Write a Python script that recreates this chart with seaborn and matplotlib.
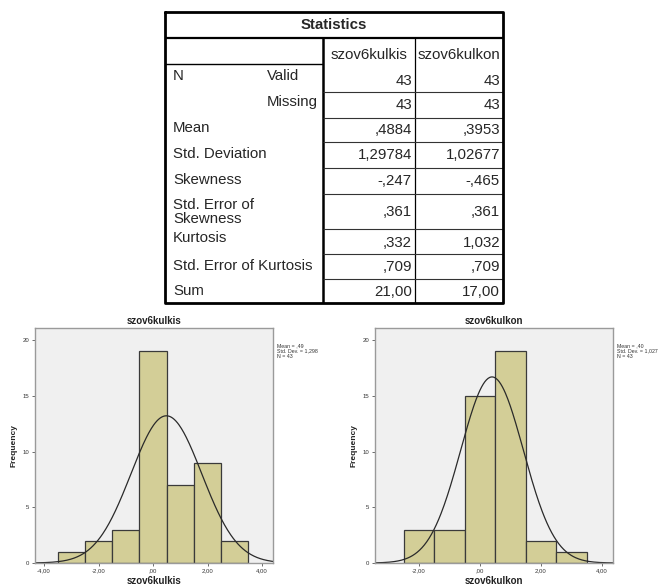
import numpy as np
import pandas as pd
import matplotlib.pyplot as plt
import seaborn as sns

# ---- data ----
var_names = ['szov6kulkis', 'szov6kulkon']
row_labels = ['Mean', 'Std. Deviation', 'Skewness', 'Std. Error of\nSkewness',
              'Kurtosis', 'Std. Error of Kurtosis', 'Sum']
kulkis_vals = ['43', '43', ',4884', '1,29784', '-,247', ',361', ',332', ',709', '21,00']
kulkon_vals = ['43', '43', ',3953', '1,02677', '-,465', ',361', '1,032', ',709', '17,00']

kulkis_edges = [-3.5, -2.5, -1.5, -0.5, 0.5, 1.5, 2.5, 3.5]
kulkis_counts = [1, 2, 3, 19, 7, 9, 2]
kulkon_edges = [-2.5, -1.5, -0.5, 0.5, 1.5, 2.5, 3.5]
kulkon_counts = [3, 3, 15, 19, 2, 1]

kulkis_mean, kulkis_sd = 0.4884, 1.29784
kulkon_mean, kulkon_sd = 0.3953, 1.02677
n_valid = 43

kulkis_ticks = [-4, -2, 0, 2, 4]
kulkis_ticklabels = ['-4,00', '-2,00', ',00', '2,00', '4,00']
kulkon_ticks = [-2, 0, 2, 4]
kulkon_ticklabels = ['-2,00', ',00', '2,00', '4,00']
y_ticks = [0, 5, 10, 15, 20]

kulkis_info = 'Mean = ,49\nStd. Dev. = 1,298\nN = 43'
kulkon_info = 'Mean = ,40\nStd. Dev. = 1,027\nN = 43'

# ---- figure ----
sns.set_style('white')
plt.rcParams['font.family'] = ['Liberation Sans', 'DejaVu Sans']
W, H = 664, 588
fig = plt.figure(figsize=(W / 100, H / 100), dpi=100)


def box(x0, y0, x1, y1):
    # pixel box (top-left origin) -> figure fraction rect
    return [x0 / W, 1 - y1 / H, (x1 - x0) / W, (y1 - y0) / H]


# ---- 1. statistics table ----
tab = fig.add_axes([0, 0, 1, 1])
tab.set_xlim(0, W)
tab.set_ylim(H, 0)
tab.axis('off')

L, C1, C2, R = 165, 323, 415, 503
top, title_b, head_b, bottom = 12, 38, 64, 303
val_lines = [92, 118, 142, 168, 194, 229, 254, 279]

fs = 10.8
tab.text((L + R) / 2, 25, 'Statistics', ha='center', va='center', fontsize=fs, fontweight='bold')
tab.hlines(title_b, L, R, color='black', lw=1.6)
tab.hlines(head_b, L, C1, color='black', lw=1.0)
tab.vlines(C1, title_b, bottom, color='black', lw=1.8)
tab.vlines(C2, title_b, bottom, color='black', lw=0.9)
tab.hlines(val_lines, C1, R, color='#333333', lw=0.8)
tab.plot([L, R, R, L, L], [top, top, bottom, bottom, top], color='black', lw=2.0)

for name, cx in zip(var_names, [(C1 + C2) / 2, (C2 + R) / 2]):
    tab.text(cx, 55, name, ha='center', va='center', fontsize=fs)

tab.text(173, 76, 'N', ha='left', va='center', fontsize=fs)
tab.text(267, 76, 'Valid', ha='left', va='center', fontsize=fs)
tab.text(267, 102, 'Missing', ha='left', va='center', fontsize=fs)
label_y = [128, 154, 180, 212, 238, 266, 291]
for lab, y in zip(row_labels, label_y):
    tab.text(173, y, lab, ha='left', va='center', fontsize=fs, linespacing=1.05)

val_y = [81, 105, 130, 155, 181, 212, 243, 267, 292]
for v1, v2, y in zip(kulkis_vals, kulkon_vals, val_y):
    tab.text(C2 - 3, y, v1, ha='right', va='center', fontsize=fs)
    tab.text(R - 3, y, v2, ha='right', va='center', fontsize=fs)

# ---- 2. histograms with normal curve ----
panels = [
    (box(35, 328, 273, 563), kulkis_edges, kulkis_counts, kulkis_mean, kulkis_sd,
     (-4.33, 4.40), kulkis_ticks, kulkis_ticklabels, var_names[0], kulkis_info),
    (box(375, 328, 613, 563), kulkon_edges, kulkon_counts, kulkon_mean, kulkon_sd,
     (-3.44, 4.36), kulkon_ticks, kulkon_ticklabels, var_names[1], kulkon_info),
]

for rect, edges, counts, mu, sd, xlim, ticks, ticklabels, name, info in panels:
    ax = fig.add_axes(rect)
    centers = [(a + b) / 2 for a, b in zip(edges[:-1], edges[1:])]
    df = pd.DataFrame({'x': centers, 'n': counts})
    sns.histplot(data=df, x='x', weights='n', bins=edges, ax=ax,
                 color='#D3CE97', alpha=1, edgecolor='#3A3A3A', linewidth=0.9)

    # normal curve scaled to counts (bin width 1)
    xs = np.linspace(xlim[0], xlim[1], 300)
    ys = n_valid * 1.0 / (sd * np.sqrt(2 * np.pi)) * np.exp(-0.5 * ((xs - mu) / sd) ** 2)
    sns.lineplot(x=xs, y=ys, ax=ax, color='#2A2A2A', lw=0.9)

    ax.set_facecolor('#F0F0F0')
    ax.set_xlim(*xlim)
    ax.set_ylim(0, 21.1)
    ax.set_xticks(ticks, ticklabels)
    ax.set_yticks(y_ticks, [str(t) for t in y_ticks])
    ax.tick_params(labelsize=4.3, length=2.5, width=0.6, color='#555555',
                   labelcolor='#333333', pad=1.5, bottom=True, left=True)
    for s in ax.spines.values():
        s.set_color('#9A9A9A')
        s.set_linewidth(1.0)
    ax.set_title(name, fontsize=7, fontweight='bold', color='#222222', pad=3)
    ax.set_xlabel(name, fontsize=7, fontweight='bold', color='#222222', labelpad=2)
    ax.set_ylabel('Frequency', fontsize=6, fontweight='bold', color='#222222', labelpad=4)
    ax.text(1.015, 0.935, info, transform=ax.transAxes, ha='left', va='top',
            fontsize=3.8, color='#333333', linespacing=1.1)

fig.savefig('out.png', dpi=100)
